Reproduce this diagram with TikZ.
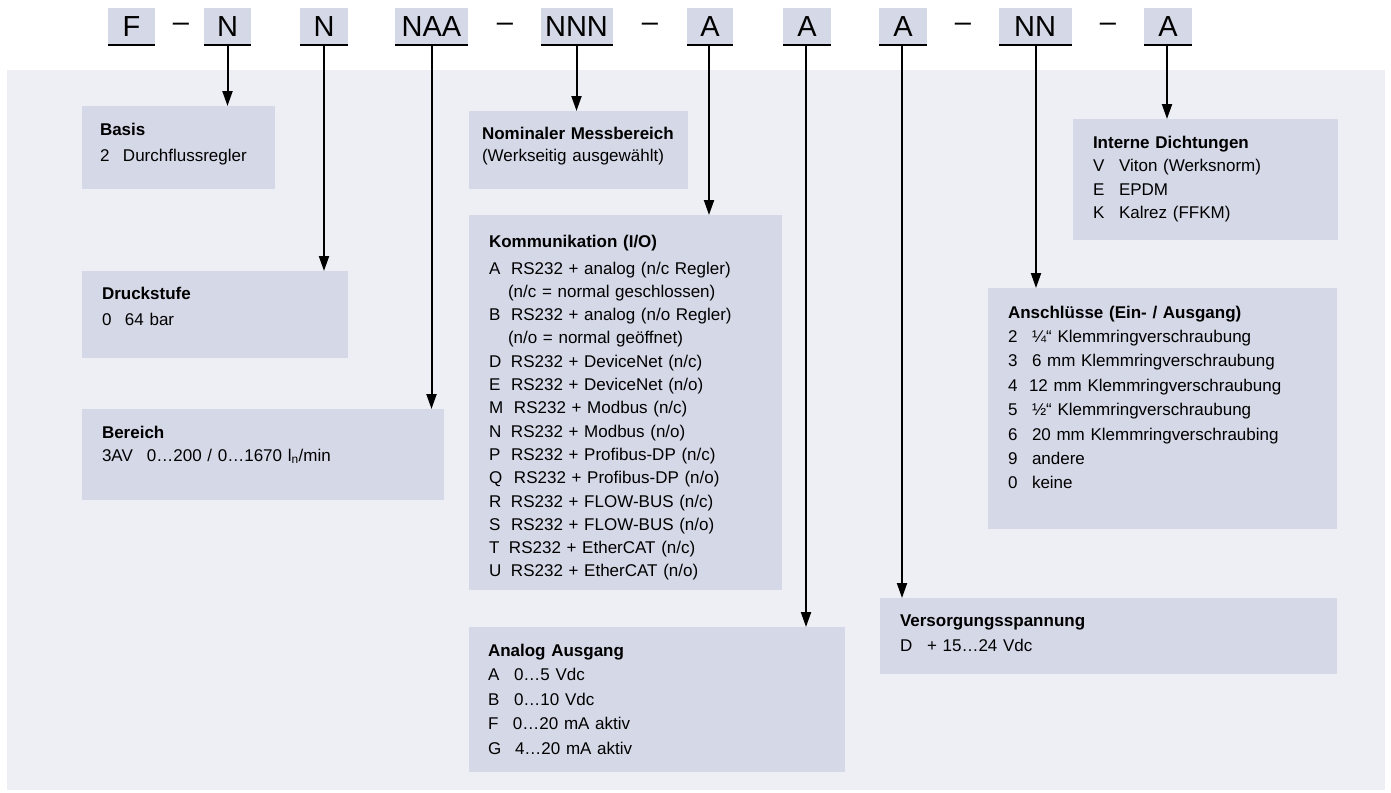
\documentclass[tikz,border=0pt]{standalone}
\usepackage{fontspec}
\setmainfont{Liberation Sans}
\usetikzlibrary{arrows.meta}
\definecolor{bgc}{RGB}{238,239,244}
\definecolor{boxc}{RGB}{213,216,231}
\newcommand\keyc[2][22pt]{\makebox[#1][l]{#2}}
\newcommand\fst{\rule{0pt}{13pt}}
\begin{document}
\begin{tikzpicture}[x=1pt,y=-1pt,
 hbox/.style={fill=boxc, inner sep=0pt, outer sep=0pt, minimum height=37pt, font=\fontsize{29}{30}\selectfont},
 hdash/.style={inner sep=0pt, anchor=base, font=\fontsize{29}{30}\selectfont},
 panel/.style={fill=boxc, inner sep=0pt, outer sep=0pt, anchor=north west},
 txt/.style={inner sep=0pt, outer sep=0pt, anchor=north west, align=left, text width=420pt, font=\fontsize{17}{#1}\selectfont},
 txt/.default=24.5pt,
 arr/.style={line width=2pt, -{Triangle[width=10pt,length=15pt]}},
 uline/.style={line width=2.2pt}]
\useasboundingbox (0,0) rectangle (1391,792);
\node[fill=bgc, inner sep=0pt, outer sep=0pt, anchor=north west, minimum width=1378pt, minimum height=720pt] (bg) at (7,70) {};

% header
\node[hbox, minimum width=47pt] (hF) at (131.5,26.5) {F};
\node[hbox, minimum width=47pt] (hN1) at (227.5,26.5) {N};
\node[hbox, minimum width=48pt] (hN2) at (324,26.5) {N};
\node[hbox, minimum width=73pt] (hNAA) at (431.5,26.5) {NAA};
\node[hbox, minimum width=72pt] (hNNN) at (576.5,26.5) {NNN};
\node[hbox, minimum width=46pt] (hA1) at (710,26.5) {A};
\node[hbox, minimum width=48pt] (hA2) at (807,26.5) {A};
\node[hbox, minimum width=48pt] (hA3) at (903,26.5) {A};
\node[hbox, minimum width=73pt] (hNN) at (1035,26.5) {NN};
\node[hbox, minimum width=48pt] (hA4) at (1168,26.5) {A};
\foreach \n in {hF,hN1,hN2,hNAA,hNNN,hA1,hA2,hA3,hNN,hA4}
  \draw[uline] (\n.south west) -- (\n.south east);
\node[hdash] (d1) at (181,32) {–};
\node[hdash] (d2) at (505,32) {–};
\node[hdash] (d3) at (650,32) {–};
\node[hdash] (d4) at (963,32) {–};
\node[hdash] (d5) at (1108,32) {–};

% panels
\node[panel, minimum width=193pt, minimum height=83pt] (basis) at (82,106) {};
\node[panel, minimum width=266pt, minimum height=87pt] (druck) at (82,271) {};
\node[panel, minimum width=362pt, minimum height=91pt] (bereich) at (82,409) {};
\node[panel, minimum width=219pt, minimum height=78pt] (nominal) at (469,111) {};
\node[panel, minimum width=313pt, minimum height=375pt] (komm) at (469,215) {};
\node[panel, minimum width=376pt, minimum height=145pt] (analog) at (469,627) {};
\node[panel, minimum width=457pt, minimum height=76pt] (versorg) at (880,598) {};
\node[panel, minimum width=265pt, minimum height=121pt] (interne) at (1073,119) {};
\node[panel, minimum width=349pt, minimum height=241pt] (anschl) at (988,288) {};

% texts
\node[txt=26pt] (basisT) at (100,122) {\fst\textbf{Basis}\\\keyc[23pt]{2}Durchflussregler};
\node[txt=26pt] (druckT) at (102,286) {\fst\textbf{Druckstufe}\\\keyc[23pt]{0}64 bar};
\node[txt=23pt] (bereichT) at (102,425) {\fst\textbf{Bereich}\\\keyc[45pt]{3AV}0…200 / 0…1670 l\textsubscript{n}/min};
\node[txt=22pt] (nominalT) at (482,126) {\fst\textbf{Nominaler Messbereich}\\(Werkseitig ausgewählt)};
\node[txt=23.3pt] (kommT) at (489,234) {\fst\textbf{Kommunikation (I/O)}\\[3.7pt]
\keyc{A}RS232 + analog (n/c Regler)\\
\hspace*{19pt}(n/c = normal geschlossen)\\
\keyc{B}RS232 + analog (n/o Regler)\\
\hspace*{19pt}(n/o = normal geöffnet)\\
\keyc{D}RS232 + DeviceNet (n/c)\\
\keyc{E}RS232 + DeviceNet (n/o)\\
\keyc[25pt]{M}RS232 + Modbus (n/c)\\
\keyc{N}RS232 + Modbus (n/o)\\
\keyc{P}RS232 + Profibus-DP (n/c)\\
\keyc[25pt]{Q}RS232 + Profibus-DP (n/o)\\
\keyc{R}RS232 + FLOW-BUS (n/c)\\
\keyc{S}RS232 + FLOW-BUS (n/o)\\
\keyc[20pt]{T}RS232 + EtherCAT (n/c)\\
\keyc{U}RS232 + EtherCAT (n/o)};
\node[txt=24.5pt] (analogT) at (488,643) {\fst\textbf{Analog Ausgang}\\
\keyc[26pt]{A}0…5 Vdc\\
\keyc[26pt]{B}0…10 Vdc\\
\keyc[25pt]{F}0…20 mA aktiv\\
\keyc[27pt]{G}4…20 mA aktiv};
\node[txt=25pt] (versorgT) at (900,613) {\fst\textbf{Versorgungsspannung}\\\keyc[27pt]{D}+ 15…24 Vdc};
\node[txt=23.5pt] (interneT) at (1093,135) {\fst\textbf{Interne Dichtungen}\\
\keyc[26pt]{V}Viton (Werksnorm)\\
\keyc[26pt]{E}EPDM\\
\keyc[26pt]{K}Kalrez (FFKM)};
\node[txt=24.4pt] (anschlT) at (1008,305) {\fst\textbf{Anschlüsse (Ein- / Ausgang)}\\
\keyc[24pt]{2}¼“ Klemmringverschraubung\\
\keyc[24pt]{3}6 mm Klemmringverschraubung\\
\keyc[21pt]{4}12 mm Klemmringverschraubung\\
\keyc[24pt]{5}½“ Klemmringverschraubung\\
\keyc[24pt]{6}20 mm Klemmringverschraubing\\
\keyc[24pt]{9}andere\\
\keyc[24pt]{0}keine};

% connectors
\draw[arr] (hN1.south) -- (hN1.south |- basis.north);
\draw[arr] (hN2.south) -- (hN2.south |- druck.north);
\draw[arr] (hNAA.south) -- (hNAA.south |- bereich.north);
\draw[arr] (hNNN.south) -- (hNNN.south |- nominal.north);
\draw[arr] ([xshift=-1pt]hA1.south) -- ([xshift=-1pt]hA1.south |- komm.north);
\draw[arr] ([xshift=-1pt]hA2.south) -- ([xshift=-1pt]hA2.south |- analog.north);
\draw[arr] ([xshift=-1pt]hA3.south) -- ([xshift=-1pt]hA3.south |- versorg.north);
\draw[arr] ([xshift=1pt]hNN.south) -- ([xshift=1pt]hNN.south |- anschl.north);
\draw[arr] ([xshift=-1pt]hA4.south) -- ([xshift=-1pt]hA4.south |- interne.north);
\end{tikzpicture}
\end{document}
